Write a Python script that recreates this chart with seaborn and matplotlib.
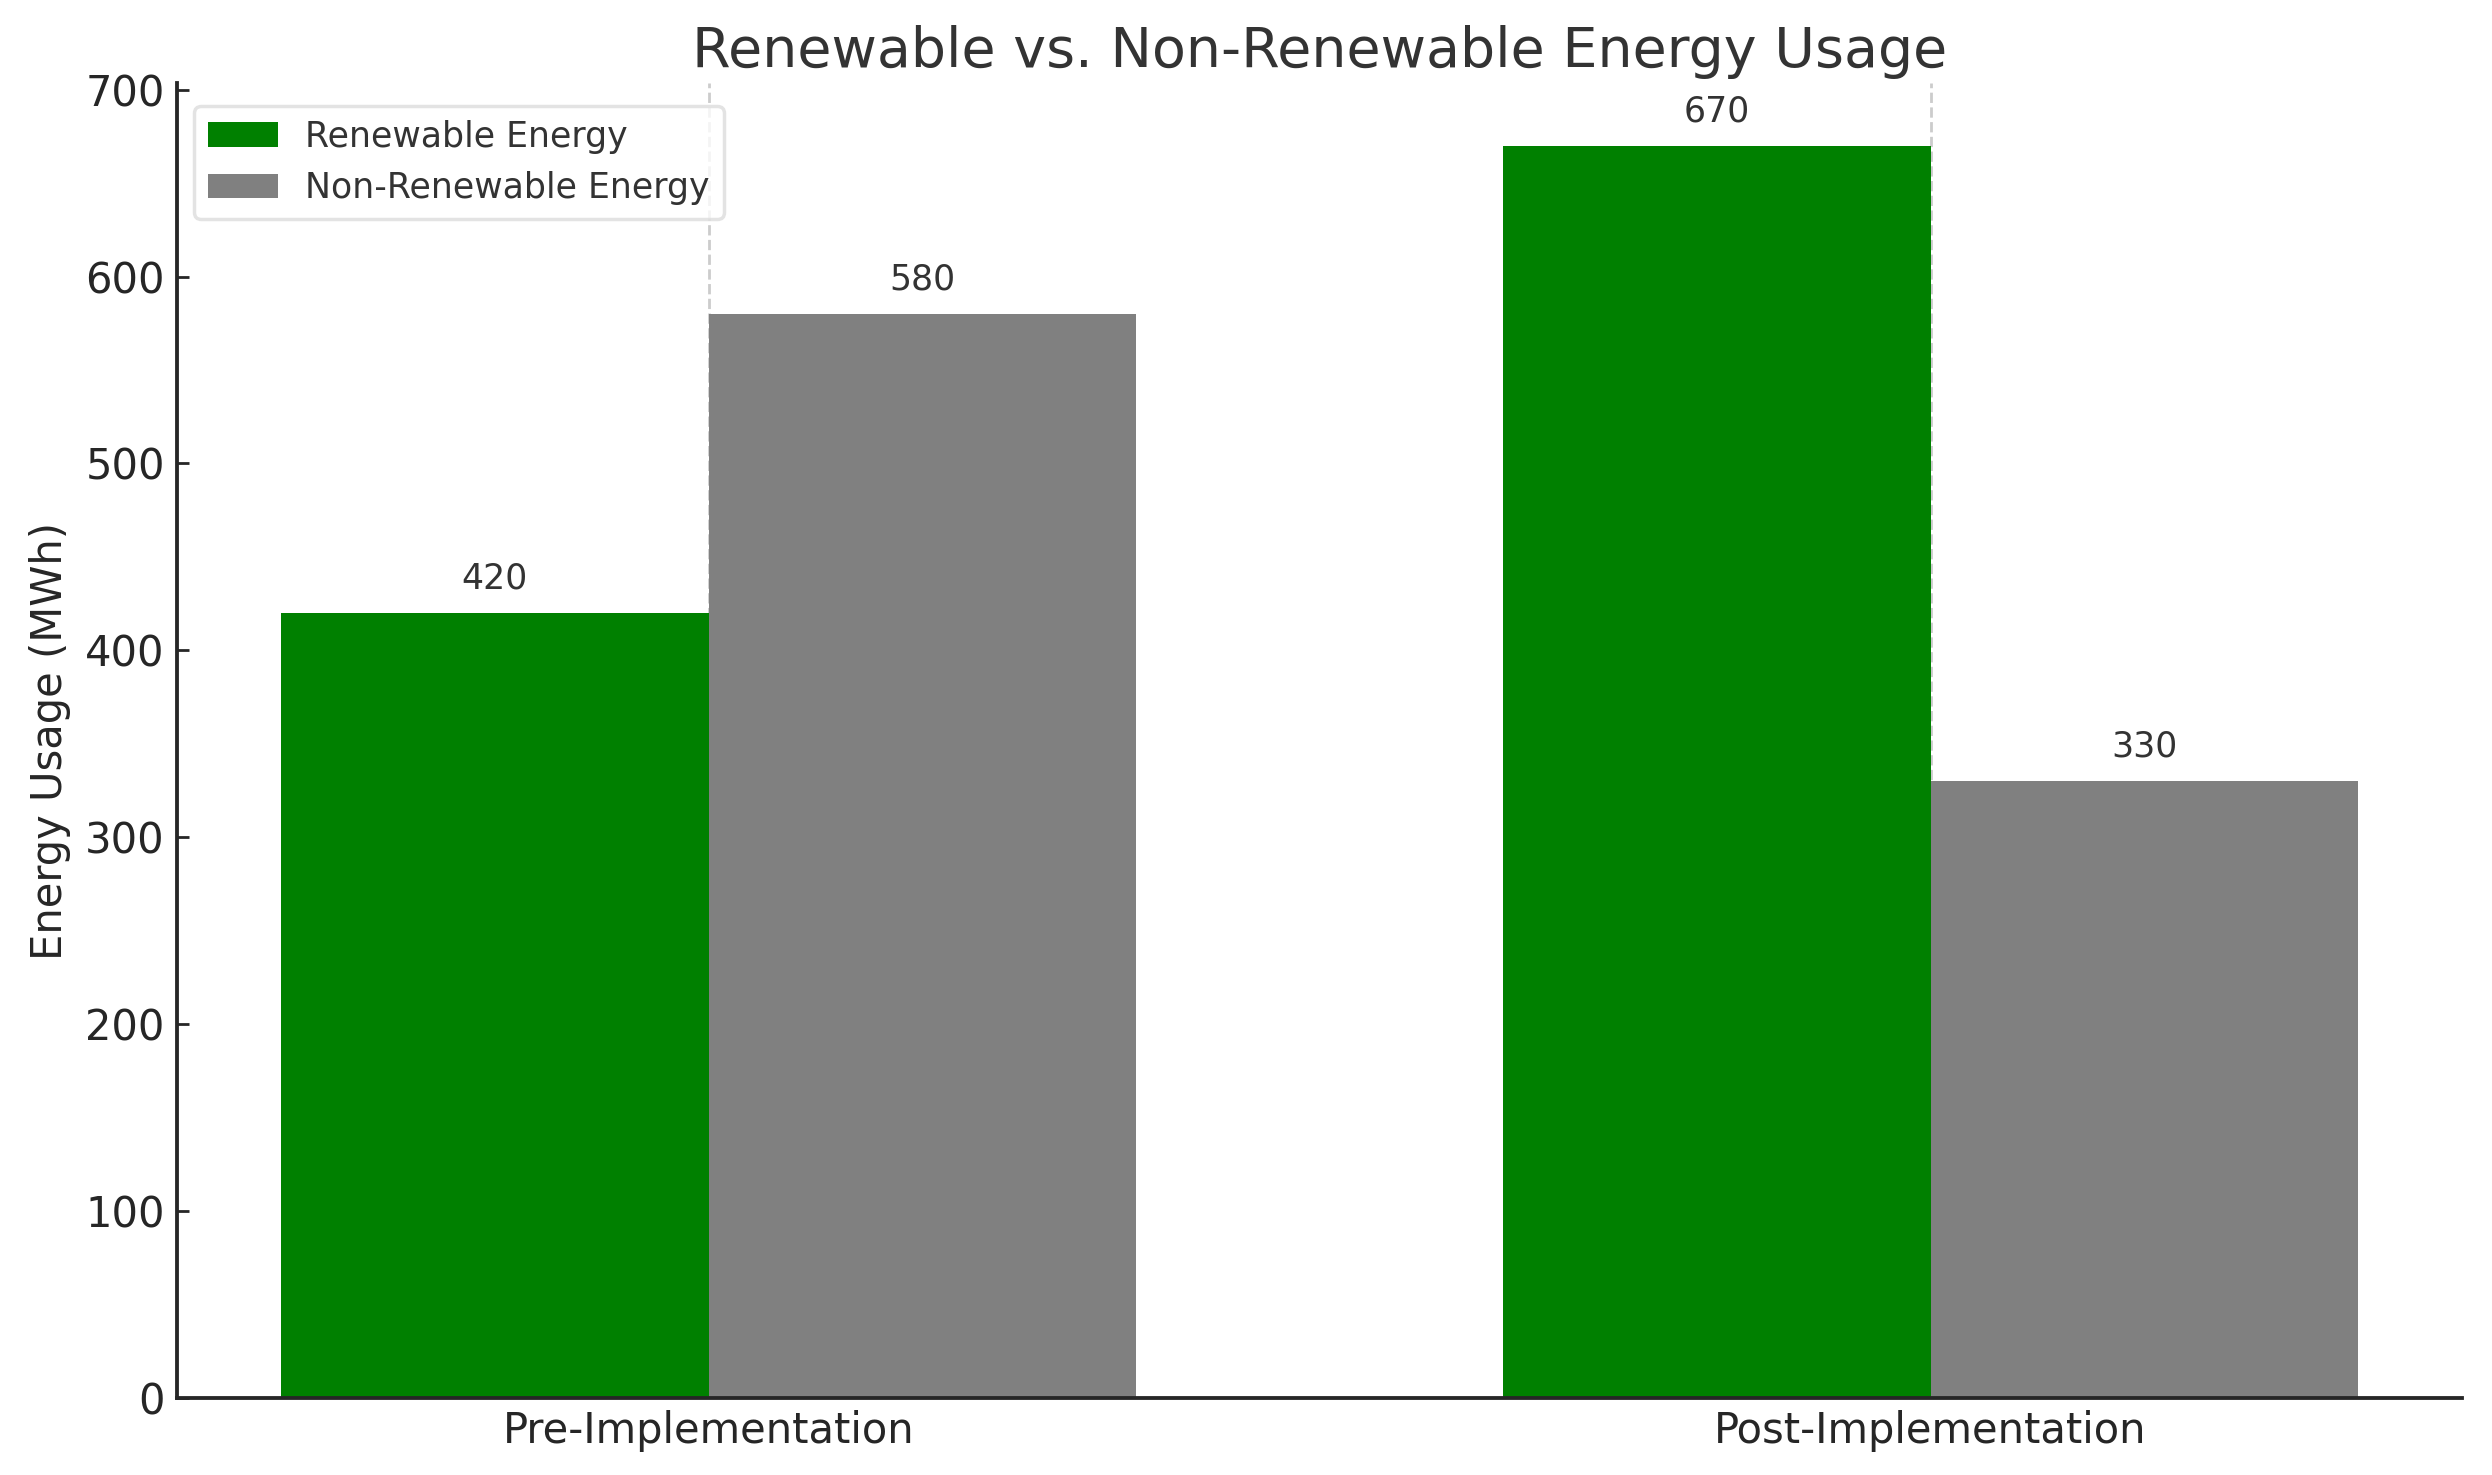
import seaborn as sns
import matplotlib.pyplot as plt
import pandas as pd

stages = ['Pre-Implementation', 'Post-Implementation']
renewable = [420, 670]
non_renewable = [580, 330]
sources = ['Renewable Energy', 'Non-Renewable Energy']

df = pd.DataFrame({
    'Stage': stages * 2,
    'Source': [sources[0]] * len(stages) + [sources[1]] * len(stages),
    'Usage': renewable + non_renewable,
})

sns.set_style('ticks')
plt.rcParams['font.family'] = ['DejaVu Sans']
plt.rcParams['xtick.direction'] = 'in'
plt.rcParams['ytick.direction'] = 'in'

fig = plt.figure(figsize=(2492 / 250, 1475 / 250), dpi=250)
ax = fig.add_axes([0.071, 0.0522, 0.917, 0.8915])

sns.barplot(data=df, x='Stage', y='Usage', hue='Source',
            palette=['green', 'grey'], width=0.7, saturation=1,
            errorbar=None, linewidth=0, ax=ax, zorder=2)

for c in ax.containers:
    ax.bar_label(c, fmt='%d', padding=5, fontsize=10, color='#333333')

ax.set_xlim(-0.435, 1.435)
ax.xaxis.grid(True, linestyle='--', color='#cccccc', linewidth=0.8, zorder=0)
ax.set_axisbelow(True)
sns.despine(ax=ax)
for s in ['left', 'bottom']:
    ax.spines[s].set_color('#262626')
    ax.spines[s].set_linewidth(1.1)

ax.tick_params(labelsize=12, colors='#262626')
ax.set_xlabel('')
ax.set_ylabel('Energy Usage (MWh)', fontsize=12, color='#262626')
ax.set_title('Renewable vs. Non-Renewable Energy Usage', fontsize=16,
             color='#333333', pad=4.5)
leg = ax.legend(loc='upper left', bbox_to_anchor=(0, 0.996), fontsize=10, frameon=True)
leg.get_frame().set_edgecolor('#dddddd')
for t in leg.get_texts():
    t.set_color('#333333')

plt.savefig('out.png', dpi=250)
